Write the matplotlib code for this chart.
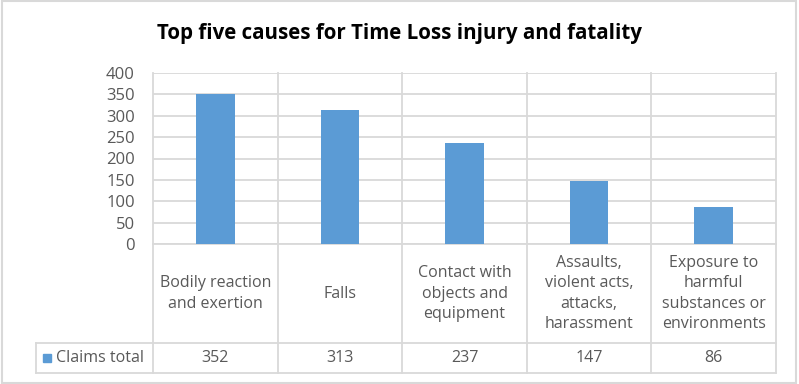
import matplotlib
matplotlib.use("Agg")
import matplotlib.pyplot as plt
from matplotlib.patches import Rectangle

categories = [
    "Bodily reaction\nand exertion",
    "Falls",
    "Contact with\nobjects and\nequipment",
    "Assaults,\nviolent acts,\nattacks,\nharassment",
    "Exposure to\nharmful\nsubstances or\nenvironments",
]
claims_total = [352, 313, 237, 147, 86]
series_name = "Claims total"
yticks = [0, 50, 100, 150, 200, 250, 300, 350, 400]

bar_color = "#5b9bd5"
grid_color = "#d9d9d9"
text_color = "#595959"
plt.rcParams["font.family"] = ["Open Sans", "DejaVu Sans"]

fig = plt.figure(figsize=(7.99, 3.84), dpi=100)
ax = fig.add_axes([153 / 799, 1 - 244 / 384, 623 / 799, 171 / 384])

x = list(range(len(categories)))
ax.bar(x, claims_total, width=0.31, color=bar_color, zorder=3)
ax.set_xlim(-0.5, len(categories) - 0.5)
ax.set_ylim(0, 400)
ax.set_yticks(yticks)
ax.tick_params(axis="y", length=0, labelsize=12, labelcolor=text_color, pad=13)
ax.set_xticks([])
ax.grid(axis="y", color=grid_color, lw=1.3, zorder=0)
for s in ax.spines.values():
    s.set_visible(False)

# table below the plot (axes-fraction y, data x)
tr = ax.get_xaxis_transform()
y_cat_bottom = (244 - 343) / 171
y_row_bottom = (244 - 373) / 171
x_leg_left = -0.5 + (36 - 153) / 124.6
line_kw = dict(color=grid_color, lw=1.3, transform=tr, clip_on=False, zorder=1)

for b in [i - 0.5 for i in range(len(categories) + 1)]:
    ax.plot([b, b], [y_row_bottom, 1], **line_kw)
ax.plot([-0.5, len(categories) - 0.5], [0, 0], **line_kw)
ax.plot([x_leg_left, len(categories) - 0.5], [y_cat_bottom, y_cat_bottom], **line_kw)
ax.plot([x_leg_left, len(categories) - 0.5], [y_row_bottom, y_row_bottom], **line_kw)
ax.plot([x_leg_left, x_leg_left], [y_row_bottom, y_cat_bottom], **line_kw)

for i, (c, v) in enumerate(zip(categories, claims_total)):
    ax.text(i, y_cat_bottom / 2, c, transform=tr, ha="center", va="center",
            fontsize=11.5, color=text_color, linespacing=1.35)
    ax.text(i, (y_cat_bottom + y_row_bottom) / 2, str(v), transform=tr,
            ha="center", va="center", fontsize=11.5, color=text_color)

row_mid = (y_cat_bottom + y_row_bottom) / 2
ax.add_patch(Rectangle((x_leg_left + 0.055, row_mid - 0.025), 0.065, 0.05,
                       transform=tr, color=bar_color, clip_on=False))
ax.text(x_leg_left + 0.16, row_mid, series_name,
        transform=tr, ha="left", va="center", fontsize=11.5, color=text_color)

fig.text(0.5, 1 - 33 / 384, "Top five causes for Time Loss injury and fatality",
         ha="center", va="center", fontsize=14.8, fontweight="bold", color="black")

# chart border
fig.add_artist(Rectangle((0.002, 0.003), 0.994, 0.994, transform=fig.transFigure,
                         fill=False, edgecolor=grid_color, lw=1.5))

fig.savefig("out.png", dpi=100)
